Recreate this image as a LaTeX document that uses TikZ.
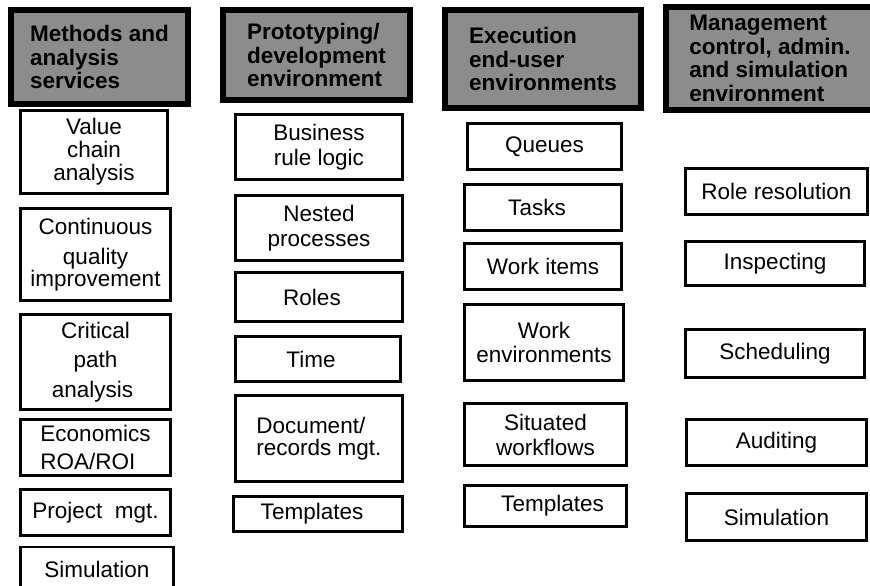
\documentclass[tikz,border=0pt]{standalone}
\usepackage{fontspec}
\setmainfont{Liberation Sans}
\usepackage{tikz}
\tikzset{
    every picture/.style={x=1pt,y=-1pt},
    sz/.style 2 args={minimum width=#1pt, minimum height=#2pt},
}

\begin{document}
\begin{tikzpicture}[
        hd/.style={draw, line width=6pt, fill=black!45, align=left, inner sep=0pt,
                   font=\fontsize{22.5}{23.5}\selectfont\bfseries},
        it/.style={draw, line width=2.6pt, fill=white, align=center, inner sep=0pt,
                   font=\fontsize{22.5}{25}\selectfont},
    ]
    \path[use as bounding box, clip] (0,0) rectangle (870,586);

    % column heads
    \node[hd, sz={177}{94}] (meth) at (99.5,57) {Methods and\\analysis\\services};
    \node[hd, sz={187}{90}] (proto) at (316.5,55) {Prototyping/\\development\\environment};
    \node[hd, sz={196}{98}] (exec) at (543,59) {Execution\\end-user\\environments};
    \node[hd, sz={208}{103}] (mgmt) at (770,58.5) {Management\\control, admin.\\and simulation\\environment};

    % methods and analysis
    \node[it, sz={147}{83}] (vca) at (94,152) {Value\\[-2pt]chain\\[-2pt]analysis};
    \node[it, sz={150}{92}] (cqi) at (95.5,254.5) {Continuous\\[5pt]quality\\[-3pt]improvement};
    \node[it, sz={150}{95}] (cpa) at (95.5,362) {Critical\\[4pt]path\\[5pt]analysis\hspace*{6pt}};
    \node[it, sz={150}{56}, align=left] (econ) at (95.5,447.5) {Economics\\[3pt]ROA/ROI};
    \node[it, sz={150}{46}] (pm) at (95.5,512.5) {Project\ \ mgt.};
    \node[it, sz={153}{44}] (sim1) at (97,569) {Simulation};

    % prototyping / development
    \node[it, sz={167}{65}] (brl) at (319,147) {Business\\rule logic};
    \node[it, sz={167}{65}] (nest) at (319,228) {Nested\\processes};
    \node[it, sz={167}{49}] (roles) at (319,297) {Roles\hspace*{14pt}};
    \node[it, sz={165}{45}] (time) at (318,359) {Time\hspace*{14pt}};
    \node[it, sz={167}{86}, align=left] (docs) at (319,438.5) {Document/\\[-3pt]records mgt.};
    \node[it, sz={169}{35}] (tpl2) at (318,514) {Templates\hspace*{12pt}};

    % execution environments
    \node[it, sz={154}{46}] (queues) at (544.5,146.5) {Queues};
    \node[it, sz={157}{46}] (tasks) at (543,207.5) {Tasks\hspace*{12pt}};
    \node[it, sz={157}{46}] (witems) at (543,266.5) {Work items};
    \node[it, sz={159}{76}] (wenv) at (544,342.5) {Work\\[-1pt]environments};
    \node[it, sz={162}{62}] (sitwf) at (545.5,434.5) {Situated\\workflows};
    \node[it, sz={162}{41}] (tpl3) at (545.5,506) {\hspace*{14pt}Templates};

    % management control
    \node[it, sz={182}{46}] (roleres) at (776.5,191.5) {Role resolution};
    \node[it, sz={179}{44}] (insp) at (775,263.5) {Inspecting};
    \node[it, sz={179}{48}] (sched) at (775,353.5) {Scheduling};
    \node[it, sz={180}{46}] (audit) at (776.5,442.5) {Auditing};
    \node[it, sz={180}{47}] (sim4) at (776.5,517) {Simulation};
\end{tikzpicture}
\end{document}
